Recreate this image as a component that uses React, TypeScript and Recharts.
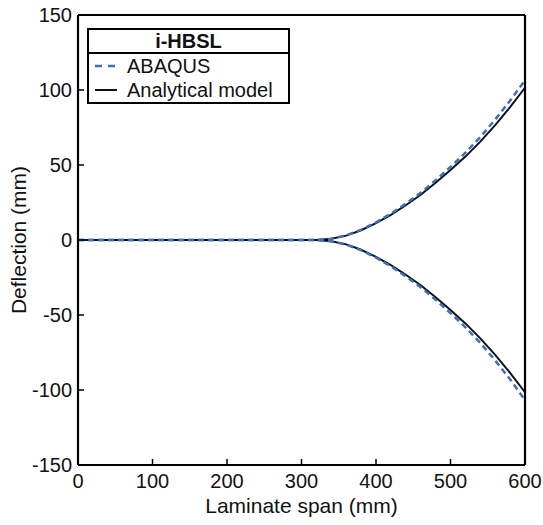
import React from "react";
import { LineChart, Line, XAxis, YAxis, Legend, Label } from "recharts";

const FONT = "'Liberation Sans', Arial, Helvetica, sans-serif";

// laminate span (mm)
const spanMm = [
  0, 20, 40, 60, 80, 100, 120, 140, 160, 180, 200, 220, 240, 260, 280, 300,
  320, 340, 360, 380, 400, 420, 440, 460, 480, 500, 520, 540, 560, 580, 600,
];

// deflection (mm)
const abaqusUpper = [
  0, 0, 0, 0, 0, 0, 0, 0, 0, 0, 0, 0, 0, 0, 0, 0,
  0, 0.9, 3.1, 6.8, 11.8, 17.5, 24.2, 31.5, 39.8, 48.7, 58.2, 68.6, 80.3, 92.9, 106.5,
];
const abaqusLower = [
  0, 0, 0, 0, 0, 0, 0, 0, 0, 0, 0, 0, 0, 0, 0, 0,
  0, -0.9, -3.1, -6.8, -11.8, -17.5, -24.2, -31.5, -39.8, -48.7, -58.2, -68.6, -80.3, -92.9, -106.8,
];
const analyticalUpper = [
  0, 0, 0, 0, 0, 0, 0, 0, 0, 0, 0, 0, 0, 0, 0, 0,
  0, 0.8, 2.9, 6.5, 11.3, 16.8, 23.2, 30.2, 38.1, 46.6, 55.6, 65.6, 76.6, 88.6, 101.5,
];
const analyticalLower = [
  0, 0, 0, 0, 0, 0, 0, 0, 0, 0, 0, 0, 0, 0, 0, 0,
  0, -0.8, -2.9, -6.5, -11.3, -16.8, -23.2, -30.2, -38.1, -46.6, -55.6, -65.6, -76.6, -88.6, -101.5,
];

const xTicks = [0, 100, 200, 300, 400, 500, 600];
const yTicks = [-150, -100, -50, 0, 50, 100, 150];

const legendTitle = "i-HBSL";
const abaqusName = "ABAQUS";
const analyticalName = "Analytical model";
const xLabel = "Laminate span (mm)";
const yLabel = "Deflection (mm)";

const BLUE = "#3d6fbf";
const BLACK = "#111";

const data = spanMm.map((x, i) => ({
  x,
  abaqusUp: abaqusUpper[i],
  abaqusLow: abaqusLower[i],
  anaUp: analyticalUpper[i],
  anaLow: analyticalLower[i],
}));

const legendRows = [
  { name: abaqusName, color: BLUE, dash: "7 6", width: 2.5 },
  { name: analyticalName, color: BLACK, dash: undefined, width: 2 },
];

function LegendBox() {
  return (
    <div
      style={{
        border: "2px solid #000",
        background: "#fff",
        fontFamily: FONT,
        fontSize: 20,
        color: "#111",
        lineHeight: "22px",
      }}
    >
      <div
        style={{
          textAlign: "center",
          fontWeight: "bold",
          height: 22,
          borderBottom: "2px solid #000",
        }}
      >
        {legendTitle}
      </div>
      <div style={{ paddingLeft: 6 }}>
        {legendRows.map((r) => (
          <div key={r.name} style={{ display: "flex", alignItems: "center", height: 24 }}>
            <svg width={24} height={10} style={{ marginRight: 8 }}>
              <line
                x1={0}
                y1={5}
                x2={22}
                y2={5}
                stroke={r.color}
                strokeWidth={r.width}
                strokeDasharray={r.dash}
              />
            </svg>
            <span>{r.name}</span>
          </div>
        ))}
      </div>
    </div>
  );
}

const axisLine = { stroke: "#000", strokeWidth: 2.2 };
const tickLine = { stroke: "#000", strokeWidth: 1.5 };
const tickStyle = { fill: "#111", fontSize: 20, fontFamily: FONT };

export default function App() {
  return (
    <div style={{ position: "absolute", left: 0, top: 0, background: "#fff" }}>
      <LineChart
        width={543}
        height={525}
        data={data}
        margin={{ top: 7, right: 10, bottom: 0, left: 0 }}
        style={{ fontFamily: FONT }}
      >
        <XAxis
          dataKey="x"
          type="number"
          domain={[0, 600]}
          ticks={xTicks}
          interval={0}
          height={60}
          tickSize={-6}
          tickMargin={15}
          axisLine={axisLine}
          tickLine={tickLine}
          tick={tickStyle}
        >
          <Label
            content={({ viewBox }: any) => {
              const cx = viewBox.x + viewBox.width / 2;
              const cy = viewBox.y + 40;
              return (
                <text
                  x={cx}
                  y={cy}
                  textAnchor="middle"
                  dominantBaseline="central"
                  fontSize={21}
                  fontFamily={FONT}
                  fill="#111"
                >
                  {xLabel}
                </text>
              );
            }}
          />
        </XAxis>
        <XAxis
          xAxisId="top"
          orientation="top"
          type="number"
          domain={[0, 600]}
          ticks={xTicks}
          interval={0}
          height={8}
          tickSize={-6}
          tick={false}
          axisLine={axisLine}
          tickLine={tickLine}
        />
        <YAxis
          type="number"
          domain={[-150, 150]}
          ticks={yTicks}
          interval={0}
          width={78}
          tickSize={-6}
          tickMargin={12}
          axisLine={axisLine}
          tickLine={tickLine}
          tick={tickStyle}
        >
          <Label
            content={({ viewBox }: any) => {
              const cx = viewBox.x + 18;
              const cy = viewBox.y + viewBox.height / 2;
              return (
                <text
                  x={cx}
                  y={cy}
                  transform={`rotate(-90 ${cx} ${cy})`}
                  textAnchor="middle"
                  dominantBaseline="central"
                  fontSize={21}
                  fontFamily={FONT}
                  fill="#111"
                >
                  {yLabel}
                </text>
              );
            }}
          />
        </YAxis>
        <YAxis
          yAxisId="right"
          orientation="right"
          type="number"
          domain={[-150, 150]}
          ticks={yTicks}
          interval={0}
          width={8}
          tickSize={-6}
          tick={false}
          axisLine={axisLine}
          tickLine={tickLine}
        />
        <Legend
          layout="vertical"
          align="center"
          verticalAlign="middle"
          wrapperStyle={{ left: 87, top: 28, width: 203 }}
          content={() => <LegendBox />}
        />
        <Line
          dataKey="anaUp"
          name={analyticalName}
          stroke={BLACK}
          strokeWidth={2}
          dot={false}
          isAnimationActive={false}
        />
        <Line
          dataKey="anaLow"
          name={analyticalName + " (lower)"}
          legendType="none"
          stroke={BLACK}
          strokeWidth={2}
          dot={false}
          isAnimationActive={false}
        />
        <Line
          dataKey="abaqusUp"
          name={abaqusName}
          stroke={BLUE}
          strokeWidth={2.5}
          strokeDasharray="6 4"
          dot={false}
          isAnimationActive={false}
        />
        <Line
          dataKey="abaqusLow"
          name={abaqusName + " (lower)"}
          legendType="none"
          stroke={BLUE}
          strokeWidth={2.5}
          strokeDasharray="6 4"
          dot={false}
          isAnimationActive={false}
        />
      </LineChart>
    </div>
  );
}
